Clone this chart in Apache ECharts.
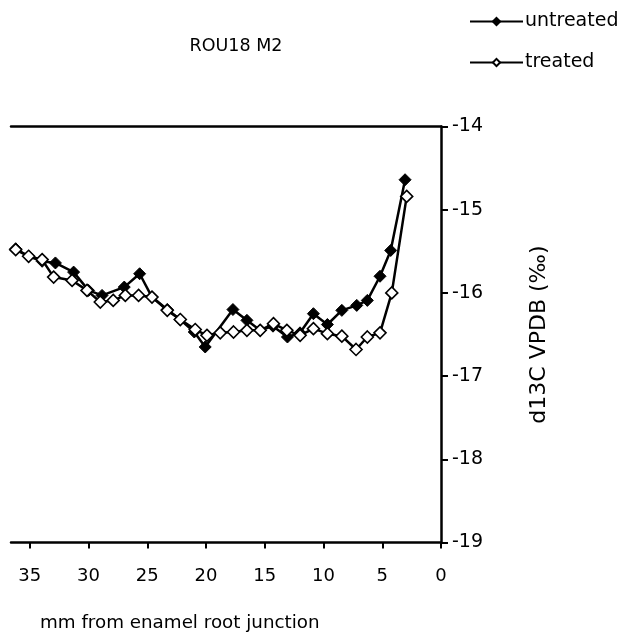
<!DOCTYPE html>
<html>
<head>
<meta charset="utf-8">
<script src="https://cdn.jsdelivr.net/npm/echarts@6/dist/echarts.min.js"></script>
<style>
  html, body { margin: 0; padding: 0; background: #fff; }
  #chart { width: 624px; height: 642px; }
</style>
</head>
<body>
<div id="chart"></div>
<script>
// Distance from the enamel root junction (mm) and d13C values per sample
const untreatedX = [36.2, 35.1, 33.95, 32.82, 31.27, 30.0, 28.85, 26.96, 25.65, 24.6, 23.3, 22.2, 21.0, 20.07, 17.71, 16.52, 15.4, 14.3, 13.07, 12.0, 10.86, 9.67, 8.44, 7.17, 6.27, 5.19, 4.28, 3.06];
const untreatedY = [-15.47, -15.56, -15.62, -15.64, -15.75, -15.97, -16.03, -15.93, -15.77, -16.05, -16.2, -16.32, -16.47, -16.65, -16.2, -16.33, -16.45, -16.4, -16.53, -16.48, -16.25, -16.38, -16.21, -16.15, -16.09, -15.8, -15.49, -14.64];

const treatedX = [36.2, 35.1, 33.95, 32.97, 31.4, 30.13, 29.0, 27.9, 26.87, 25.74, 24.6, 23.3, 22.19, 20.92, 19.92, 18.79, 17.66, 16.52, 15.39, 14.26, 13.12, 11.99, 10.86, 9.67, 8.44, 7.23, 6.27, 5.19, 4.19, 2.92];
const treatedY = [-15.48, -15.56, -15.6, -15.81, -15.85, -15.97, -16.11, -16.09, -16.03, -16.03, -16.05, -16.21, -16.32, -16.44, -16.51, -16.48, -16.47, -16.45, -16.45, -16.37, -16.45, -16.51, -16.43, -16.49, -16.52, -16.68, -16.53, -16.48, -16.0, -14.84];

const xTicks = [0, 5, 10, 15, 20, 25, 30, 35];

const pairs = (xs, ys) => xs.map((x, i) => [x, ys[i]]);

const FONT = 'DejaVu Sans';
const chart = echarts.init(document.getElementById('chart'), null, { renderer: 'canvas' });

chart.setOption({
  animation: false,
  backgroundColor: '#fff',
  textStyle: { fontFamily: FONT, color: '#000' },
  title: [
    {
      text: 'ROU18 M2',
      left: 231, top: 32,
      textAlign: 'center',
      textStyle: { fontFamily: FONT, fontSize: 17.5, fontWeight: 'normal', color: '#000' }
    },
    {
      text: 'mm from enamel root junction',
      left: 35, top: 609,
      textStyle: { fontFamily: FONT, fontSize: 18.3, fontWeight: 'normal', color: '#000' }
    }
  ],
  legend: {
    orient: 'vertical',
    left: 464, top: 7,
    itemWidth: 53, itemHeight: 9,
    itemGap: 22,
    textStyle: { fontFamily: FONT, fontSize: 19, color: '#000', padding: [0, 0, 0, -3] },
    data: ['untreated', 'treated']
  },
  grid: { left: 11, right: 183, top: 126.5, bottom: 99.5, containLabel: false },
  xAxis: [
    {
      type: 'value',
      inverse: true,
      min: 0, max: 36.6,
      axisLine: { show: true, lineStyle: { color: '#000', width: 2.5 } },
      axisTick: { show: true, inside: false, length: 6, customValues: xTicks, lineStyle: { color: '#000', width: 2 } },
      axisLabel: { customValues: xTicks, margin: 25, fontFamily: FONT, fontSize: 18, color: '#000' },
      splitLine: { show: false }
    },
    {
      type: 'value',
      position: 'top',
      inverse: true,
      min: 0, max: 36.6,
      axisLine: { show: true, lineStyle: { color: '#000', width: 2.5 } },
      axisTick: { show: false },
      axisLabel: { show: false },
      splitLine: { show: false }
    }
  ],
  yAxis: {
    type: 'value',
    position: 'right',
    min: -19, max: -14, interval: 1,
    name: 'd13C VPDB (‰)',
    nameLocation: 'middle',
    nameGap: 87,
    nameTextStyle: { fontFamily: FONT, fontSize: 22, color: '#000' },
    axisLine: { show: true, onZero: false, lineStyle: { color: '#000', width: 2.5 } },
    axisTick: { show: true, inside: false, length: 7, lineStyle: { color: '#000', width: 2 } },
    axisLabel: { margin: 11, fontFamily: FONT, fontSize: 19, color: '#000' },
    splitLine: { show: false }
  },
  series: [
    {
      name: 'untreated',
      type: 'line',
      data: pairs(untreatedX, untreatedY),
      symbol: 'diamond',
      symbolSize: 12,
      showAllSymbol: true,
      lineStyle: { color: '#000', width: 2.5 },
      itemStyle: { color: '#000', borderColor: '#000', borderWidth: 1 },
      emphasis: { disabled: true }
    },
    {
      name: 'treated',
      type: 'line',
      data: pairs(treatedX, treatedY),
      symbol: 'diamond',
      symbolSize: 12,
      showAllSymbol: true,
      lineStyle: { color: '#000', width: 2.5 },
      itemStyle: { color: '#fff', borderColor: '#000', borderWidth: 1.6 },
      emphasis: { disabled: true }
    }
  ]
});
</script>
</body>
</html>
